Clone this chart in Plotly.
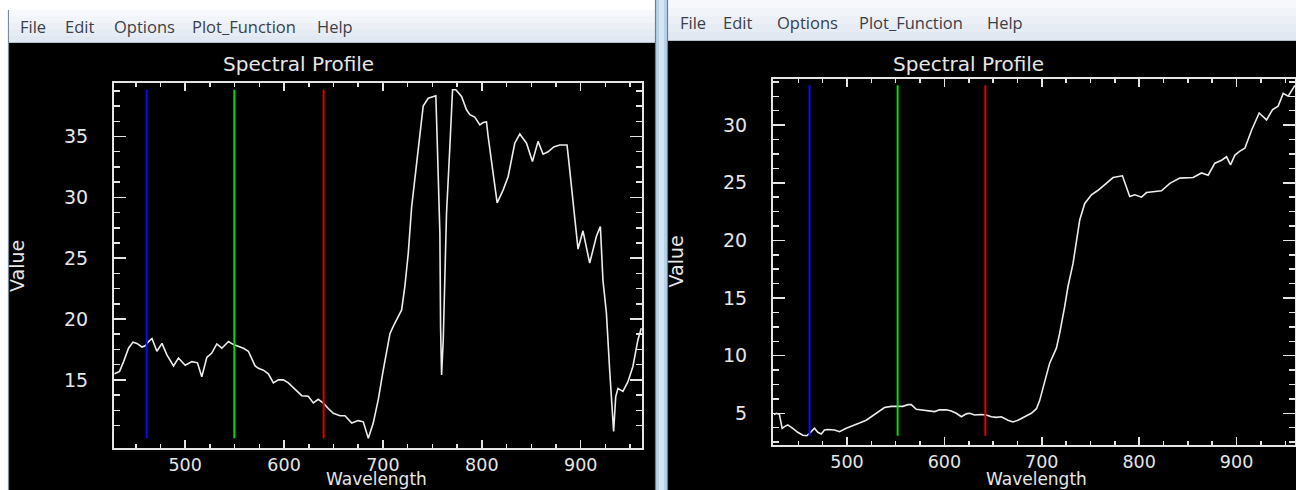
import plotly.graph_objects as go

# ---- spectral profiles (wavelength in nm, value) ----
left_wavelength = [
    428.5, 433.6, 437.7, 442.7, 447.2, 451.2, 456.3, 459.6, 462.9, 466.4,
    471.4, 476.5, 481.5, 488.2, 493.2, 500.0, 506.8, 512.4, 516.8, 521.9,
    526.9, 532.0, 537.1, 543.8, 548.8, 553.8, 558.9, 563.9, 570.7, 574.0,
    579.1, 584.1, 589.2, 594.2, 599.3, 604.3, 611.1, 617.9, 624.5, 629.6,
    634.6, 639.7, 644.7, 649.8, 656.6, 661.6, 668.4, 675.0, 680.1, 685.2,
    690.2, 695.3, 700.3, 707.1, 710.4, 718.9, 722.2, 725.6, 729.0, 735.7,
    740.7, 745.8, 753.5, 754.9, 757.6, 758.3, 759.3, 761.0, 762.6, 764.3,
    767.7, 770.4, 773.7, 779.5, 784.5, 787.9, 792.9, 798.0, 801.3, 804.7,
    806.4, 811.4, 815.5, 821.5, 826.6, 833.3, 838.4, 845.2, 851.2, 856.9,
    862.0, 867.0, 872.7, 878.8, 886.2, 888.2, 891.6, 893.9, 897.3, 902.3,
    909.1, 915.9, 919.9, 922.5, 926.0, 929.3, 932.0, 933.3, 935.4, 937.7,
    942.7, 947.8, 952.8, 957.9, 961.3,
]
left_value = [
    15.5, 15.7, 16.5, 17.6, 18.1, 18.0, 17.7, 17.8, 18.15, 18.4,
    17.35, 18.0, 17.05, 16.15, 16.8, 16.2, 16.5, 16.4, 15.25, 16.85,
    17.2, 17.95, 17.6, 18.15, 17.9, 17.75, 17.6, 17.35, 16.15, 15.95,
    15.8, 15.5, 14.75, 15.0, 15.0, 14.75, 14.2, 13.7, 13.65, 13.1,
    13.4, 13.1, 12.65, 12.25, 12.05, 12.05, 11.45, 11.65, 11.55, 10.2,
    11.45, 13.4, 15.8, 18.8, 19.4, 20.75, 22.7, 25.4, 29.2, 34.2,
    37.5, 38.15, 38.35, 34.6, 27.0, 19.3, 15.4, 18.3, 23.5, 28.7,
    34.2, 38.85, 38.85, 38.3, 37.2, 36.8, 36.6, 35.95, 36.15, 36.2,
    35.0, 32.0, 29.55, 30.6, 31.7, 34.45, 35.2, 34.45, 32.95, 34.6,
    33.55, 33.75, 34.15, 34.3, 34.3, 32.8, 30.35, 28.15, 25.75, 27.25,
    24.6, 26.8, 27.6, 23.2, 20.5, 15.8, 12.55, 10.75, 13.6, 14.3,
    14.05, 14.85, 16.1, 18.3, 19.25,
]

right_wavelength = [
    425.0, 427.9, 430.6, 433.4, 435.8, 439.2, 444.3, 449.4, 454.6, 458.7,
    461.5, 466.6, 470.0, 473.5, 476.9, 480.3, 487.2, 492.3, 499.2, 506.0,
    512.8, 519.7, 526.5, 533.4, 538.5, 545.4, 552.2, 557.3, 562.5, 566.0,
    571.1, 577.9, 584.8, 589.9, 595.1, 602.0, 607.1, 612.2, 617.4, 622.5,
    625.9, 631.0, 637.9, 643.1, 648.2, 653.3, 658.5, 665.3, 670.4, 675.5,
    682.4, 689.3, 694.5, 697.8, 703.0, 708.1, 715.0, 718.4, 723.5, 726.9,
    732.1, 735.6, 739.0, 744.1, 751.0, 757.8, 764.6, 773.2, 782.8, 790.3,
    795.5, 802.4, 807.5, 814.3, 822.9, 831.5, 841.7, 855.4, 864.0, 870.8,
    877.7, 884.6, 889.7, 893.8, 898.3, 903.4, 908.5, 915.4, 923.2, 930.8,
    937.0, 942.7, 947.9, 953.0, 959.9,
]
right_value = [
    4.9, 5.0, 4.9, 3.7, 3.85, 4.0, 3.7, 3.35, 3.1, 3.05,
    3.25, 3.7, 3.35, 3.2, 3.55, 3.6, 3.55, 3.4, 3.7, 3.9,
    4.15, 4.4, 4.8, 5.15, 5.5, 5.6, 5.6, 5.6, 5.75, 5.75,
    5.35, 5.3, 5.2, 5.15, 5.3, 5.3, 5.2, 5.0, 4.7, 4.95,
    5.0, 4.85, 4.9, 4.85, 4.7, 4.65, 4.7, 4.4, 4.25, 4.4,
    4.7, 5.0, 5.4, 6.1, 7.75, 9.35, 10.65, 11.95, 14.25, 16.0,
    18.0, 20.05, 21.8, 23.2, 23.95, 24.35, 24.8, 25.45, 25.6, 23.8,
    23.95, 23.75, 24.15, 24.2, 24.3, 24.95, 25.4, 25.45, 25.85, 25.65,
    26.7, 26.95, 27.25, 26.55, 27.4, 27.75, 28.0, 29.55, 31.05, 30.45,
    31.35, 31.65, 32.75, 32.5, 33.45,
]

# display bands (R, G, B markers) for each window
left_bands = {"blue": 461.0, "green": 549.7, "red": 640.0}
right_bands = {"blue": 461.5, "green": 552.0, "red": 642.0}
band_colors = {"blue": "#0a0aff", "green": "#00dd00", "red": "#e00000"}

# axis ticks
x_major = [500, 600, 700, 800, 900]
x_minor = [450, 475, 525, 550, 575, 625, 650, 675, 725, 750, 775, 825, 850, 875, 925, 950]
left_y_major = [15, 20, 25, 30, 35]
left_y_minor = [11.25, 12.5, 13.75, 16.25, 17.5, 18.75, 21.25, 22.5, 23.75,
                26.25, 27.5, 28.75, 31.25, 32.5, 33.75, 36.25, 37.5, 38.75]
right_y_major = [5, 10, 15, 20, 25, 30]
right_y_minor = [2.5, 3.75, 6.25, 7.5, 8.75, 11.25, 12.5, 13.75, 16.25, 17.5, 18.75,
                 21.25, 22.5, 23.75, 26.25, 27.5, 28.75, 31.25, 32.5, 33.75]

menu_items = ["File", "Edit", "Options", "Plot_Function", "Help"]

W, H = 1296, 490


def px(x):
    return x / W


def py(y):
    return 1 - y / H


AX_COLOR = "#e4e4e4"
TXT = "#e6e6e6"
PLOT_FONT = dict(family="DejaVu Sans", size=19, color=TXT)
XTICK_FONT = dict(family="DejaVu Sans", size=17.5, color=TXT)
XTITLE_FONT = dict(family="DejaVu Sans", size=17, color=TXT)

fig = go.Figure()

panels = [
    ("x", "y", left_wavelength, left_value, left_bands),
    ("x2", "y2", right_wavelength, right_value, right_bands),
]
for xa, ya, wl, val, bands in panels:
    fig.add_trace(go.Scatter(
        x=wl, y=val, mode="lines", xaxis=xa, yaxis=ya,
        line=dict(color="#ececec", width=1.6), hoverinfo="skip", showlegend=False,
    ))
    lo, hi = min(val), max(val)
    for name, w in bands.items():
        fig.add_trace(go.Scatter(
            x=[w, w], y=[lo, hi], mode="lines", xaxis=xa, yaxis=ya,
            line=dict(color=band_colors[name], width=2), hoverinfo="skip", showlegend=False,
        ))


def xaxis_style(domain, rng):
    return dict(
        domain=domain, range=rng, showgrid=False, zeroline=False,
        showline=True, linecolor=AX_COLOR, linewidth=2, mirror="allticks",
        ticks="inside", ticklen=8, tickwidth=1.5, tickcolor=AX_COLOR,
        tickmode="array", tickvals=x_major, tickfont=XTICK_FONT,
        ticklabelstandoff=0,
        minor=dict(ticks="inside", ticklen=4, tickwidth=1.5, tickcolor=AX_COLOR,
                   tickmode="array", tickvals=x_minor),
        fixedrange=True,
    )


def yaxis_style(domain, rng, major, minor, anchor):
    return dict(
        domain=domain, range=rng, anchor=anchor, showgrid=False, zeroline=False,
        showline=True, linecolor=AX_COLOR, linewidth=2, mirror="allticks",
        ticks="inside", ticklen=12, tickwidth=1.5, tickcolor=AX_COLOR,
        tickmode="array", tickvals=major, tickfont=PLOT_FONT,
        ticklabelstandoff=20,
        minor=dict(ticks="inside", ticklen=6, tickwidth=1.5, tickcolor=AX_COLOR,
                   tickmode="array", tickvals=minor),
        fixedrange=True,
    )


fig.update_layout(
    width=W, height=H,
    margin=dict(l=0, r=0, t=0, b=0),
    paper_bgcolor="#000000", plot_bgcolor="#000000",
    showlegend=False,
    xaxis=xaxis_style([px(114), px(642)], [428, 962]) | dict(anchor="y"),
    yaxis=yaxis_style([py(448), py(83)], [9.4, 39.4], left_y_major, left_y_minor, "x"),
    xaxis2=xaxis_style([px(773), px(1295)], [424, 960]) | dict(anchor="y2"),
    yaxis2=yaxis_style([py(445), py(79)], [2.25, 34.0], right_y_major, right_y_minor, "x2"),
)

shapes = []
# white frame strip on the far left and above the first window
shapes.append(dict(type="rect", xref="paper", yref="paper", x0=0, x1=px(8.5), y0=0, y1=1,
                   fillcolor="#ffffff", line=dict(width=0), layer="above"))
shapes.append(dict(type="rect", xref="paper", yref="paper", x0=0, x1=px(655), y0=py(10), y1=1,
                   fillcolor="#ffffff", line=dict(width=0), layer="above"))
shapes.append(dict(type="line", xref="paper", yref="paper", x0=px(8.5), x1=px(8.5), y0=0, y1=py(10),
                   line=dict(color="#7d8a99", width=1.2), layer="above"))


def menu_bar(x0, x1, y0, y1):
    # soft vertical gradient: each band runs to the bar's bottom so there are no seams
    top = (0xf6, 0xf8, 0xfb)
    bot = (0xe1, 0xe8, 0xf1)
    n = 5
    out = []
    for i in range(n):
        t = i / (n - 1)
        c = tuple(round(top[k] + (bot[k] - top[k]) * t) for k in range(3))
        ya = y0 + (y1 - y0) * i / n
        out.append(dict(type="rect", xref="paper", yref="paper", x0=px(x0), x1=px(x1),
                        y0=py(y1), y1=py(ya), fillcolor="rgb(%d,%d,%d)" % c,
                        line=dict(width=0), layer="above"))
    out.append(dict(type="line", xref="paper", yref="paper", x0=px(x0), x1=px(x1),
                    y0=py(y1), y1=py(y1), line=dict(color="#b4bfcc", width=1.2), layer="above"))
    return out


shapes += menu_bar(9, 655, 10, 42.5)
shapes += menu_bar(668, 1296, 0, 40.5)

# splitter between the two windows
shapes.append(dict(type="rect", xref="paper", yref="paper", x0=px(655), x1=px(668), y0=0, y1=1,
                   fillcolor="#b8d2e8", line=dict(width=0), layer="above"))
shapes.append(dict(type="rect", xref="paper", yref="paper", x0=px(659), x1=px(664), y0=0, y1=1,
                   fillcolor="#d6e6f4", line=dict(width=0), layer="above"))
for xl in (655.5, 667.5):
    shapes.append(dict(type="line", xref="paper", yref="paper", x0=px(xl), x1=px(xl), y0=0, y1=1,
                       line=dict(color="#6f7f90", width=1.2), layer="above"))
fig.update_layout(shapes=shapes)

ann = []
MENU_FONT = dict(family="Open Sans", size=16.5, color="#3b4048")
for xs, yc in (((18, 63, 112, 190, 315), 26.5), ((678, 721, 775, 857, 985), 22.5)):
    for label, x in zip(menu_items, xs):
        ann.append(dict(text=label, x=px(x), y=py(yc), xref="paper", yref="paper",
                        xanchor="left", yanchor="middle", showarrow=False, font=MENU_FONT))

TITLE_FONT = dict(family="DejaVu Sans", size=20, color=TXT)
for xc in (298, 968.5):
    ann.append(dict(text="Spectral Profile", x=px(xc), y=py(64), xref="paper", yref="paper",
                    xanchor="center", yanchor="middle", showarrow=False, font=TITLE_FONT))
for xc in (376, 1036):
    ann.append(dict(text="Wavelength", x=px(xc), y=0, xref="paper", yref="paper",
                    xanchor="center", yanchor="bottom", showarrow=False, font=XTITLE_FONT,
                    borderpad=0))
for xc, yc in ((17, 266), (675.5, 262)):
    ann.append(dict(text="Value", x=px(xc), y=py(yc), xref="paper", yref="paper",
                    xanchor="center", yanchor="middle", showarrow=False, textangle=-90,
                    font=PLOT_FONT))
fig.update_layout(annotations=ann)

fig.write_html("out.html", config={"displayModeBar": False, "staticPlot": True})
